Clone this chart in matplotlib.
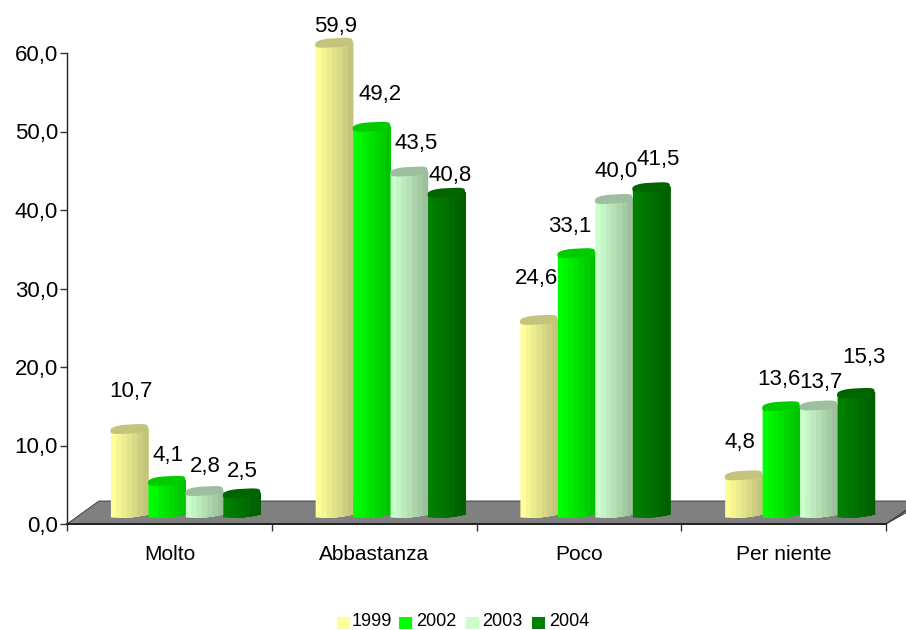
import numpy as np
import matplotlib; matplotlib.use("Agg")
import matplotlib.pyplot as plt
from matplotlib.colors import to_rgb
from matplotlib.patches import Rectangle

plt.rcParams["font.family"] = ["Liberation Sans", "DejaVu Sans"]

W, H = 906, 630
categories = ["Molto", "Abbastanza", "Poco", "Per niente"]
years = ["1999", "2002", "2003", "2004"]
v1999 = [10.7, 59.9, 24.6, 4.8]
v2002 = [4.1, 49.2, 33.1, 13.6]
v2003 = [2.8, 43.5, 40.0, 13.7]
v2004 = [2.5, 40.8, 41.5, 15.3]
series = [v1999, v2002, v2003, v2004]

# left / right facet colours and the cap colour of each cylinder
LIGHT = ["#FFFF99", "#00FF00", "#CCFFCC", "#008000"]
DARK = ["#C4C47C", "#00C400", "#9CC09C", "#006000"]
CAP = ["#C4C47C", "#00CC00", "#9DBF9D", "#006400"]

# label nudges from bar top centre, in px (reference places them by hand)
LABEL_DX = [[2, 1, 1, 1], [2, 9, 7, 4], [-2, -6, 3, 7], [-3, -2, 3, 8]]
LABEL_DY = [[42, 29, 29, 26], [20, 36, 32, 21], [45, 31, 31, 32], [37, 31, 27, 39]]

PX_X = 205 / 1.0   # px per category
PX_Y = 471 / 60.0  # px per unit
BASE = 7 / PX_Y    # cylinders stand on the floor, above the axis line
LIFT = 2 / PX_Y
GROUP_OFF = 0.212
BAR_W = 0.183

fig = plt.figure(figsize=(W / 100, H / 100), dpi=100)
ax = fig.add_axes([67 / W, 1 - 524 / H, 819 / W, 471 / H])
ax.set_xlim(0, 4)
ax.set_ylim(0, 60)
ax.patch.set_visible(False)

# floor of the 3D box
ax.fill([0, 32 / PX_X, 4.2, 4.0], [0, 23 / PX_Y, 23 / PX_Y, 0], color="#808080",
        ec="#303030", lw=0.6, clip_on=False, zorder=1)
ax.plot([4.0, 4.1], [0, 14 / PX_Y], color="#404040", lw=1, clip_on=False, zorder=1)


def cylinder(x0, w, val, i):
    n = 7
    edges = np.linspace(0, 1, n + 1)
    c0, c1 = np.array(to_rgb(LIGHT[i])), np.array(to_rgb(DARK[i]))
    top = BASE + val + LIFT
    for k in range(n):
        # each strip runs on to the cylinder's right edge, the next one paints over it
        t = np.linspace(edges[k], 1, 16)
        xs = x0 + t * w
        arc = (np.sin(np.pi * t) * 1.5 - t * 3) / PX_Y
        mix = k / (n - 1)
        col = c0 * (1 - mix) + c1 * mix
        ax.fill_between(xs, BASE - arc, top + t * 3 / PX_Y, color=col, lw=0,
                        zorder=3, clip_on=False)
    # cap: squared-off tilted ellipse
    ang = np.linspace(0, 2 * np.pi, 41)
    c, s = np.cos(ang), np.sin(ang)
    sq_c = np.sign(c) * np.abs(c) ** 0.7
    sq_s = np.sign(s) * np.abs(s) ** 0.7
    capx = x0 + w / 2 - sq_c * w / 2
    capy = top + (2 - c * 1.8 + sq_s * 4.5) / PX_Y
    ax.fill(capx, capy, color=CAP[i], lw=0, zorder=3.1, clip_on=False)


for g in range(len(categories)):
    for s, vals in enumerate(series):
        x0 = g + GROUP_OFF + s * BAR_W
        cylinder(x0, BAR_W, vals[g], s)
        ax.annotate(f"{vals[g]:.1f}".replace(".", ","), (x0 + BAR_W / 2, BASE + vals[g]),
                    xytext=(LABEL_DX[g][s] * 0.72, LABEL_DY[g][s] * 0.72),
                    textcoords="offset points", ha="center", va="center",
                    fontsize=16, color="black", zorder=5, annotation_clip=False)

for sp in ("top", "right"):
    ax.spines[sp].set_visible(False)
for sp in ("left", "bottom"):
    ax.spines[sp].set_color("#222222")
    ax.spines[sp].set_linewidth(1)
    ax.spines[sp].set_zorder(2)
ax.spines["bottom"].set_linewidth(1.4)

ax.set_yticks(np.arange(0, 61, 10))
ax.set_yticklabels([f"{v:.1f}".replace(".", ",") for v in np.arange(0, 61, 10)], fontsize=16)
ax.set_xticks(range(5))
ax.set_xticklabels([])
ax.tick_params(length=5, width=1, color="#333333", pad=1.5)
for g, c in enumerate(categories):
    ax.text(g + 0.5, -30 / PX_Y, c, ha="center", va="center", fontsize=15)

# legend, placed by hand because the "1" of 1999 runs into the swatch
LEG_BOX = [337, 399, 466, 532]
LEG_TXT = [352, 416, 482, 549]
for i, y in enumerate(years):
    fig.add_artist(Rectangle((LEG_BOX[i] / W, 1 - 629 / H), 13 / W, 12 / H,
                             transform=fig.transFigure, color=LIGHT[i], lw=0))
    fig.text(LEG_TXT[i] / W, 1 - 622 / H, y, fontsize=13, ha="left", va="center")

fig.savefig("out.png", dpi=100)
